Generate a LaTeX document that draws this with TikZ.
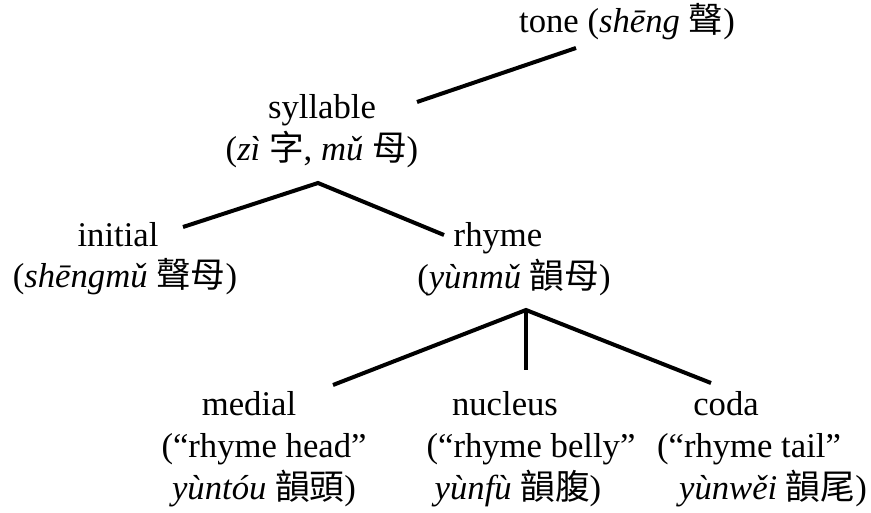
\documentclass[tikz,border=0pt]{standalone}
\usepackage{fontspec}
\setmainfont{Liberation Serif}
\newfontfamily\cjk{Noto Sans CJK TC}
\begin{document}
\begin{tikzpicture}[x=0.75pt,y=-0.75pt,
  lbl/.style={align=center,inner sep=0pt,anchor=base,font=\fontsize{26}{31.5}\selectfont},
  edge/.style={line width=3pt}]
\useasboundingbox (0,0) rectangle (871,513);
% anchor=base sits on the baseline of the last line
\node[lbl] (tone) at (627,33) {tone (\textit{shēng} {\cjk 聲})};
\node[lbl] (syl) at (322,161) {syllable\\(\textit{zì} {\cjk 字}, \textit{mǔ} {\cjk 母})};
\node[lbl] (ini) at (125,288) {initial\hspace*{10.5pt}\\(\textit{shēngmǔ} {\cjk 聲母})};
\node[lbl] (rhy) at (514,289) {rhyme\hspace*{24pt}\\(\textit{yùnmǔ} {\cjk 韻母})};
\node[lbl] (med) at (264,499) {medial\hspace*{22.5pt}\\(“rhyme head”\\\textit{yùntóu} {\cjk 韻頭})};
\node[lbl] (nuc) at (531,499) {nucleus\hspace*{39pt}\\(“rhyme belly”\\\textit{yùnfù} {\cjk 韻腹})\hspace*{19.5pt}};
\node[lbl] (cod) at (749,499) {coda\hspace*{34.5pt}\\(“rhyme tail”\\\hspace*{36pt}\textit{yùnwěi} {\cjk 韻尾})};
% connector end points
\coordinate (toneB) at (576,48);
\coordinate (sylT) at (417,102);
\coordinate (sylB) at (318,183);
\coordinate (iniT) at (183,227);
\coordinate (rhyT) at (444,235);
\coordinate (rhyB) at (526,310);
\coordinate (medT) at (333,385);
\coordinate (nucT) at (526,370);
\coordinate (codT) at (711,383);
\draw[edge] (toneB) -- (sylT);
\draw[edge] (iniT) -- (sylB) -- (rhyT);
\draw[edge] (medT) -- (rhyB) -- (codT);
\draw[edge] (rhyB) -- (nucT);
\end{tikzpicture}
\end{document}
